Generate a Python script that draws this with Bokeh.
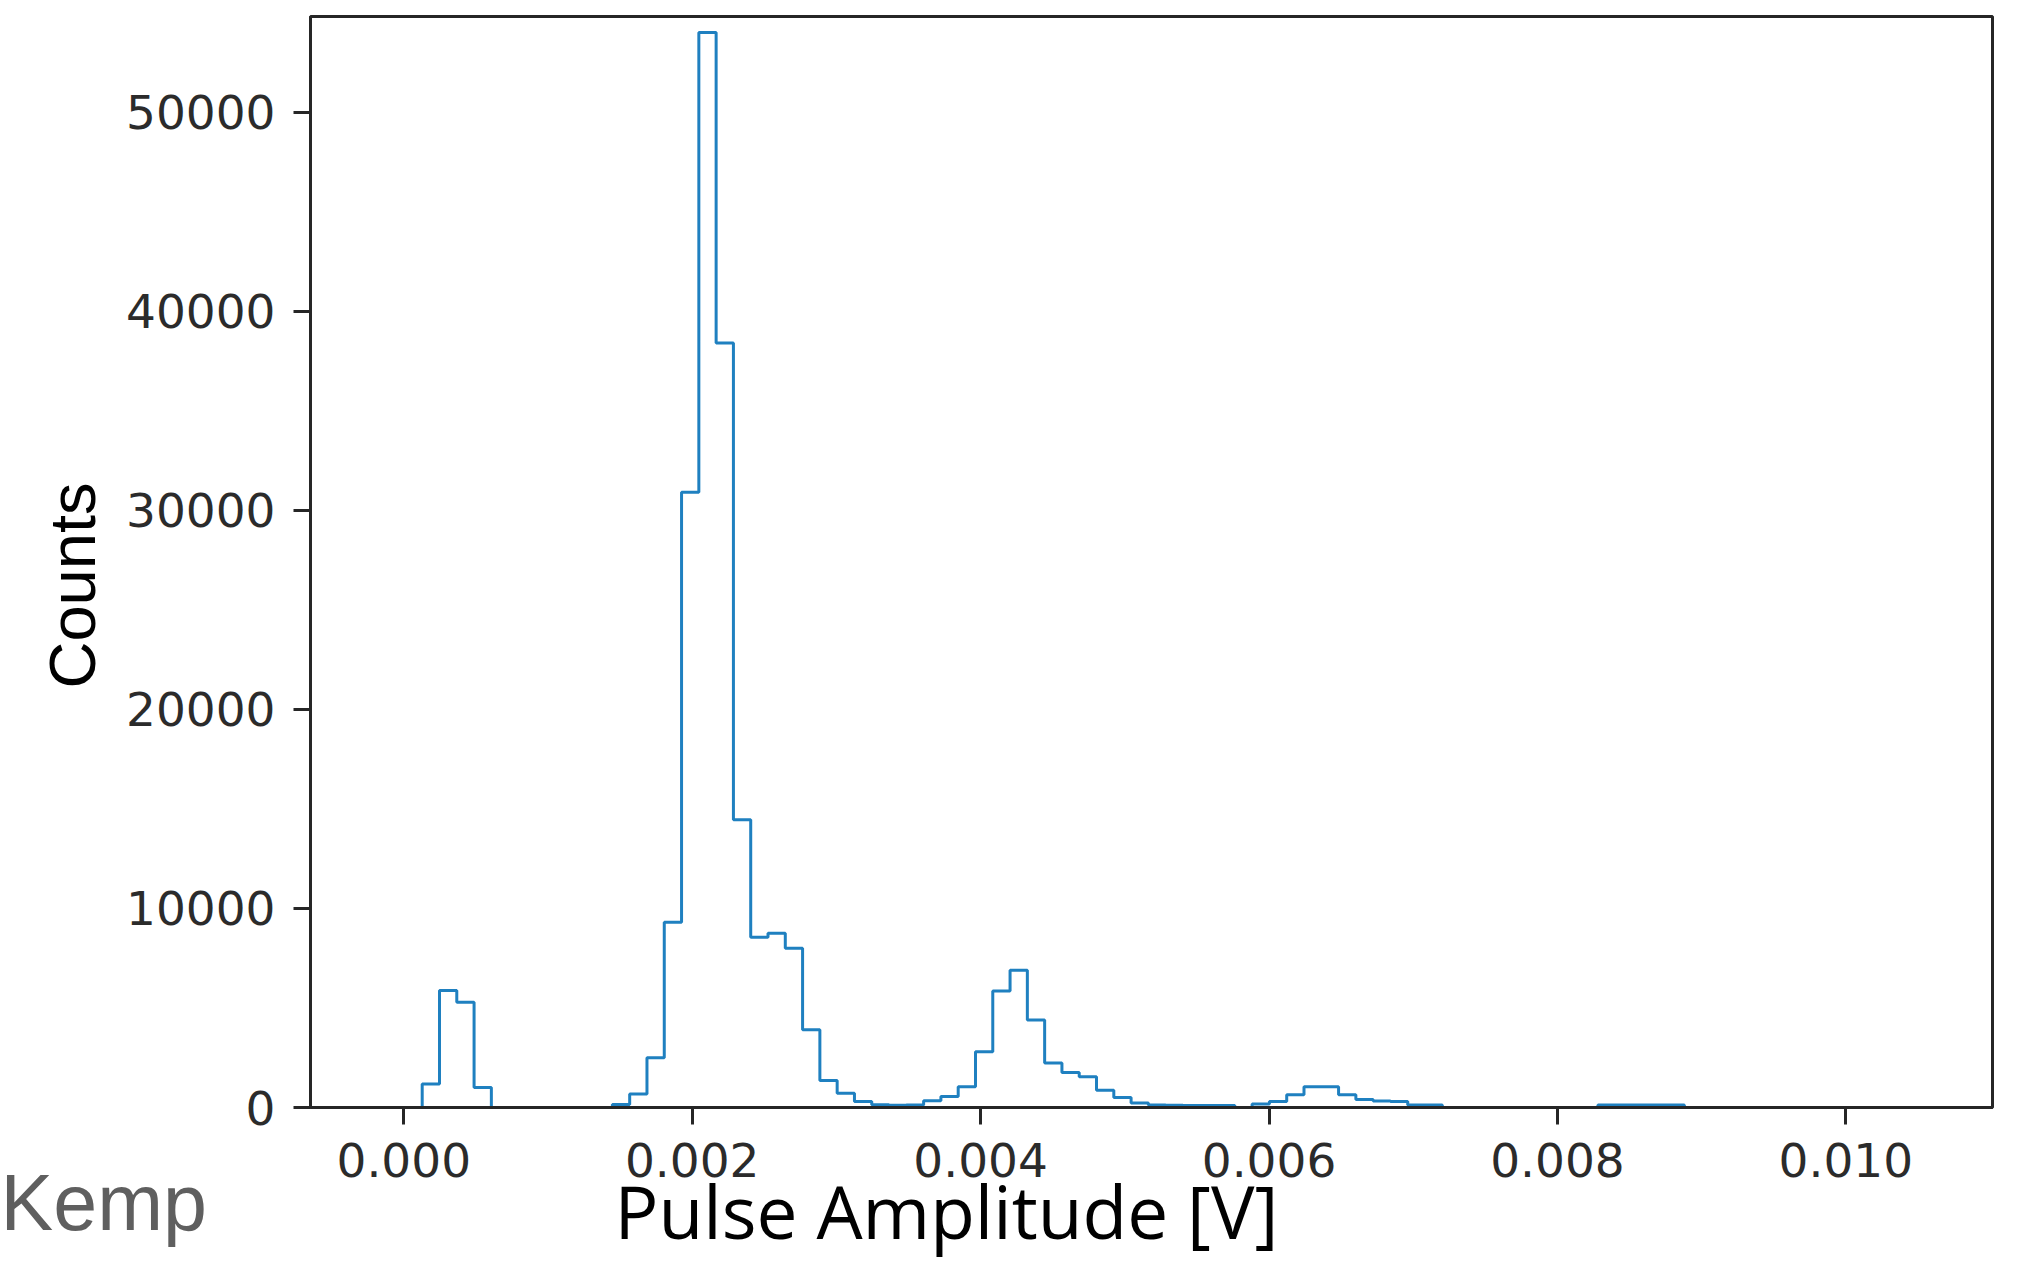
import numpy as np
from bokeh.plotting import figure
from bokeh.models import Range1d, FixedTicker, NumeralTickFormatter, GridBox
from bokeh.core.properties import value
from bokeh.embed import file_html
from bokeh.resources import INLINE

# ---------------- data ----------------
bin_start = 0.0000077      # left edge of first bin [V]
bin_width = 0.0001199      # bin width [V]
counts = [
    0, 1180, 5880, 5290, 1010, 0, 0, 0, 0, 0,
    0, 0, 150, 680, 2500, 9300, 30900, 54000, 38400, 14450,
    8550, 8750, 8000, 3900, 1350, 720, 300, 140, 110, 120,
    340, 550, 1040, 2800, 5850, 6900, 4400, 2230, 1760, 1540,
    870, 500, 220, 120, 110, 100, 100, 100, 0, 170,
    300, 640, 1040, 1040, 640, 400, 330, 300, 130, 120,
    0, 0, 0, 0, 0, 0, 0, 0, 0, 120,
    120, 120, 120, 120,
]
x_ticks = [0.000, 0.002, 0.004, 0.006, 0.008, 0.010]
y_ticks = [0, 10000, 20000, 30000, 40000, 50000]
x_label = "Pulse Amplitude [V]"
y_label = "Counts"
corner_text = "Kemp"

# ---------------- layout ----------------
W, H = 2018, 1263
FL, FR, FT, FB = 310, 1992, 16, 1107
x0, x1 = -0.000647, 0.011017
y0, y1 = 0, 54800

edges = bin_start + bin_width * np.arange(len(counts) + 1)
xs, ys = [edges[0]], [0]
for i, c in enumerate(counts):
    xs += [edges[i], edges[i + 1]]
    ys += [c, c]
xs.append(edges[-1])
ys.append(0)

p = figure(width=W, height=H, output_backend="svg", toolbar_location=None,
           x_range=Range1d(x0, x1), y_range=Range1d(y0, y1),
           min_border_left=FL, min_border_right=W - FR,
           min_border_top=FT, min_border_bottom=H - FB)
p.frame_align = False
p.background_fill_color = "white"
p.border_fill_color = "white"
p.xgrid.visible = False
p.ygrid.visible = False
p.outline_line_color = "#262626"
p.outline_line_width = 3

p.line(xs, ys, line_color="#1f80c0", line_width=3)

axis_col = "#262626"
for ax in (p.xaxis[0], p.yaxis[0]):
    ax.axis_line_color = axis_col
    ax.axis_line_width = 3
    ax.major_tick_line_color = axis_col
    ax.major_tick_line_width = 3
    ax.major_tick_out = 17
    ax.major_tick_in = 0
    ax.minor_tick_line_color = None
    ax.major_label_text_font = "DejaVu Sans"
    ax.major_label_text_font_size = "47px"
    ax.major_label_text_color = "#2b2b2b"

p.xaxis.ticker = FixedTicker(ticks=x_ticks)
p.yaxis.ticker = FixedTicker(ticks=y_ticks)
p.xaxis.formatter = NumeralTickFormatter(format="0.000")
p.yaxis.formatter = NumeralTickFormatter(format="0")
p.xaxis.major_label_standoff = 18
p.yaxis.major_label_standoff = 18

# ---- transparent overlay canvas (pixel coordinates) for the free texts ----
t = figure(width=W, height=H, output_backend="svg", toolbar_location=None,
           x_range=Range1d(0, W), y_range=Range1d(H, 0),
           x_axis_type=None, y_axis_type=None,
           min_border_left=0, min_border_right=0,
           min_border_top=0, min_border_bottom=0)
t.frame_align = False
t.background_fill_color = None
t.border_fill_color = None
t.outline_line_color = None
t.xgrid.visible = False
t.ygrid.visible = False

t.text(x=[72], y=[585], text=[y_label], angle=np.pi / 2,
       text_align="center", text_baseline="alphabetic",
       text_font=value("Liberation Sans"), text_font_size="65px",
       text_color="black")
t.text(x=[946], y=[1210], text=[x_label],
       text_align="center", text_baseline="alphabetic",
       text_font=value("Open Sans"), text_font_size="73px",
       text_color="black")
t.text(x=[0], y=[1202], text=[corner_text],
       text_align="left", text_baseline="alphabetic",
       text_font=value("Liberation Sans"), text_font_size="79px",
       text_color="#5f5f5f")

layout = GridBox(children=[(p, 0, 0), (t, 0, 0)])

open("out.html", "w").write(file_html(layout, INLINE))
